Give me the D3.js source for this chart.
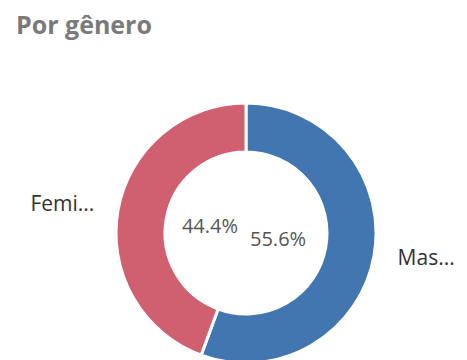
<!DOCTYPE html>
<html>
<head>
<meta charset="utf-8">
<script src="https://cdn.jsdelivr.net/npm/d3@7"></script>
<style>
  html, body { margin: 0; padding: 0; background: #fff; }
  svg { display: block; }
</style>
</head>
<body>
<svg id="chart" width="467" height="360"></svg>
<script>
// Gender split
const categories = ["Masculino", "Feminino"];
const shortLabels = ["Mas...", "Femi..."];
const shares = [55.6, 44.4];
const colors = ["#4176b1", "#d0606f"];

const svg = d3.select("#chart");
const cx = 246, cy = 233;
const outerR = 130, innerR = 81;

svg.append("text")
  .attr("x", 16)
  .attr("y", 34)
  .attr("font-family", "Open Sans, sans-serif")
  .attr("font-weight", 700)
  .attr("font-size", 25)
  .attr("fill", "#7a7a7a")
  .text("Por gênero");

const data = categories.map((c, i) => ({ cat: c, short: shortLabels[i], value: shares[i], color: colors[i] }));

const pie = d3.pie().sort(null).value(d => d.value);
const arcs = pie(data);
const arc = d3.arc().innerRadius(innerR).outerRadius(outerR);
const labelArc = d3.arc().innerRadius(154).outerRadius(154);
const rightSide = d => (d.startAngle + d.endAngle) / 2 < Math.PI;

const g = svg.append("g").attr("transform", `translate(${cx},${cy})`);

g.selectAll("path.slice")
  .data(arcs)
  .join("path")
  .attr("class", "slice")
  .attr("d", arc)
  .attr("fill", d => d.data.color)
  .attr("stroke", "#fff")
  .attr("stroke-width", 3);

// Category labels outside the ring, aligned to each slice's mid angle
g.selectAll("text.cat")
  .data(arcs)
  .join("text")
  .attr("class", "cat")
  .attr("x", d => labelArc.centroid(d)[0])
  .attr("y", d => labelArc.centroid(d)[1] - 3)
  .attr("text-anchor", d => (rightSide(d) ? "start" : "end"))
  .attr("dominant-baseline", "central")
  .attr("font-family", "Open Sans, sans-serif")
  .attr("font-size", 21)
  .attr("fill", "#333")
  .text(d => d.data.short);

// Percentages inside the hole
const pctFmt = d3.format(".1f");
g.selectAll("text.pct")
  .data(arcs)
  .join("text")
  .attr("class", "pct")
  .attr("x", d => (rightSide(d) ? 4 : -8))
  .attr("y", d => (rightSide(d) ? 5 : -8))
  .attr("text-anchor", d => (rightSide(d) ? "start" : "end"))
  .attr("dominant-baseline", "central")
  .attr("font-family", "Open Sans, sans-serif")
  .attr("font-size", 20)
  .attr("fill", "#555")
  .text(d => pctFmt(d.data.value) + "%");
</script>
</body>
</html>
